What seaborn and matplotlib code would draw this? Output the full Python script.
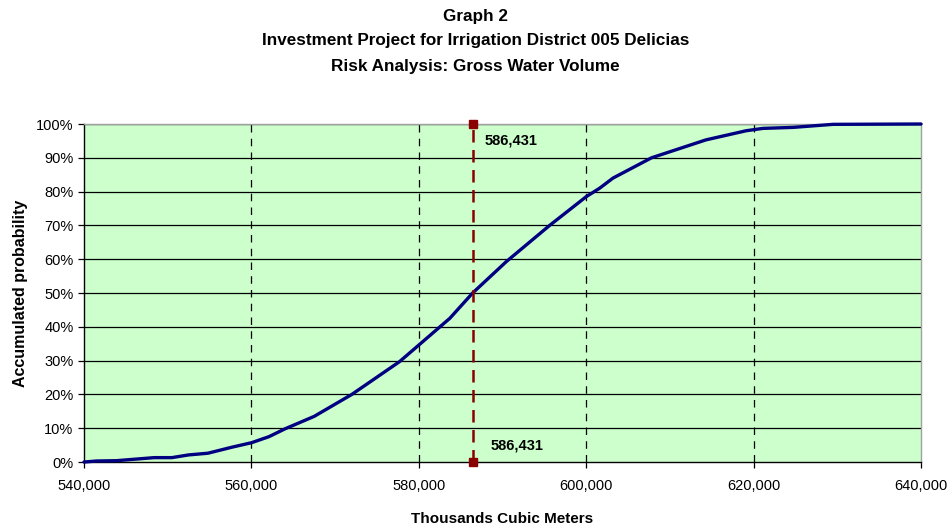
import numpy as np
import pandas as pd
import matplotlib
matplotlib.use("Agg")
import matplotlib.pyplot as plt
import seaborn as sns
from matplotlib.ticker import FuncFormatter

# ---------------------------------------------------------
# DATA
# ---------------------------------------------------------
volume = [540000, 541500, 543900, 548400, 550500, 552500, 554800, 557700,
          560000, 562100, 564000, 567500, 572000, 577700, 580000, 583700,
          586431, 590460, 595630, 600000, 601600, 603200, 607800, 614300,
          619100, 621100, 624700, 629500, 640000]
prob = [0.000, 0.003, 0.004, 0.013, 0.013, 0.021, 0.026, 0.044,
        0.057, 0.075, 0.098, 0.135, 0.200, 0.297, 0.346, 0.425,
        0.500, 0.593, 0.700, 0.785, 0.810, 0.840, 0.900, 0.953,
        0.980, 0.987, 0.990, 0.999, 1.000]

marker_x = 586431
marker_y = [0.0, 1.0]
marker_label = "586,431"

title_lines = ["Graph 2",
               "Investment Project for Irrigation District 005 Delicias",
               "Risk Analysis: Gross Water Volume"]

df = pd.DataFrame({"volume": volume, "prob": prob})

# ---------------------------------------------------------
# PLOT
# ---------------------------------------------------------
sns.set_style("white")
plt.rcParams["font.family"] = ["Liberation Sans", "DejaVu Sans"]
plt.rcParams["text.color"] = "black"
plt.rcParams["axes.labelcolor"] = "black"
plt.rcParams["xtick.color"] = "black"
plt.rcParams["ytick.color"] = "black"

fig = plt.figure(figsize=(9.51, 5.27), dpi=100)
ax = fig.add_axes([0.0883, 0.1233, 0.8802, 0.6414])
ax.set_facecolor("#CCFFCC")

# grid
for yv in np.arange(0.1, 1.01, 0.1):
    ax.axhline(yv, color="black", lw=0.9, zorder=1)
for xv in [560000, 580000, 600000, 620000]:
    ax.axvline(xv, color="black", lw=0.9, ls=(0, (6, 5)), zorder=1)

sns.lineplot(data=df, x="volume", y="prob", ax=ax, color="#000080",
             lw=2.4, zorder=3, clip_on=False)

# risk marker line
ax.plot([marker_x, marker_x], marker_y, color="#8B0000", lw=1.8,
        ls=(0, (5, 3)), marker="s", ms=6, zorder=4, clip_on=False)
ax.text(marker_x + 1400, 0.95, marker_label, fontsize=10.5, fontweight="bold",
        va="center", ha="left")
ax.text(marker_x + 2100, 0.05, marker_label, fontsize=10.5, fontweight="bold",
        va="center", ha="left")

ax.set_xlim(540000, 640000)
ax.set_ylim(0, 1)
ax.set_xticks(np.arange(540000, 640001, 20000))
ax.set_yticks(np.arange(0, 1.01, 0.1))
ax.xaxis.set_major_formatter(FuncFormatter(lambda v, p: f"{int(v):,}"))
ax.yaxis.set_major_formatter(FuncFormatter(lambda v, p: f"{v*100:.0f}%"))
ax.tick_params(axis="both", direction="out", length=4, width=0.9,
               labelsize=10.5, color="black", bottom=True, left=True)
ax.tick_params(axis="x", pad=8)

for s in ["left", "bottom"]:
    ax.spines[s].set_color("black")
    ax.spines[s].set_linewidth(1.0)
for s in ["top", "right"]:
    ax.spines[s].set_color("#A0A0A0")
    ax.spines[s].set_linewidth(1.0)

ax.set_xlabel("Thousands Cubic Meters", fontsize=11, fontweight="bold",
              labelpad=14)
ax.set_ylabel("Accumulated probability", fontsize=11.5, fontweight="bold",
              labelpad=6)

for i, t in enumerate(title_lines):
    fig.text(0.5, 1 - (16 + 25 * i) / 527, t, ha="center", va="center",
             fontsize=12.3, fontweight="bold")

fig.savefig("out.png", dpi=100)
plt.close(fig)
